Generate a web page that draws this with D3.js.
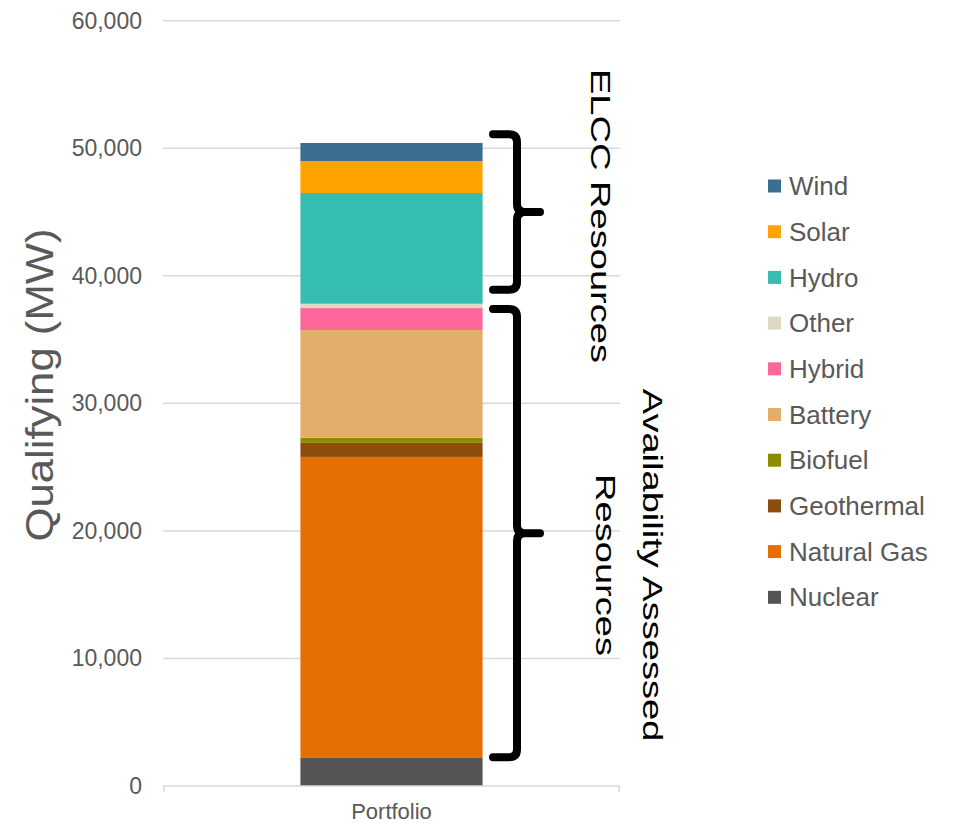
<!DOCTYPE html>
<html>
<head>
<meta charset="utf-8">
<script src="https://cdn.jsdelivr.net/npm/d3@7"></script>
<style>
  html, body { margin: 0; padding: 0; background: #ffffff; }
  svg { display: block; font-family: "Liberation Sans", Arial, sans-serif; }
</style>
</head>
<body>
<svg id="chart" width="956" height="826"></svg>
<script>
// Qualifying capacity of the portfolio, stacked by resource type (MW)
const categories = ["Portfolio"];
const seriesNames = ["Nuclear", "Natural Gas", "Geothermal", "Biofuel", "Battery",
                     "Hybrid", "Other", "Hydro", "Solar", "Wind"];
const seriesValues = [2200, 23600, 1100, 400, 8450, 1720, 340, 8680, 2510, 1410];
const seriesColors = ["#555555", "#E56E00", "#8C4D0C", "#8C8C00", "#E3AE6B",
                      "#FF6699", "#DDD9C3", "#35BDB2", "#FFA300", "#3B6E8F"];
const yTicks = [0, 10000, 20000, 30000, 40000, 50000, 60000];

// Resource groups marked with braces: [low, high] in MW
const groupLabels = [["ELCC Resources"], ["Availability Assessed", "Resources"]];
const groupRanges = [[38900, 51100], [2250, 37400]];

const svg = d3.select("#chart");
const plot = { left: 163, right: 620, top: 20.7, bottom: 786 };

const x = d3.scaleBand().domain(categories).range([plot.left, plot.right]).padding(0.43);
const y = d3.scaleLinear().domain([0, 60000]).range([plot.bottom, plot.top]);

// Gridlines
svg.append("g")
  .selectAll("line")
  .data(yTicks.filter(d => d > 0))
  .join("line")
  .attr("x1", plot.left).attr("x2", plot.right)
  .attr("y1", d => y(d)).attr("y2", d => y(d))
  .attr("stroke", "#d9d9d9").attr("stroke-width", 1.5);

// Y axis labels
const yAxis = svg.append("g")
  .attr("transform", `translate(${plot.left},0)`)
  .call(d3.axisLeft(y).tickValues(yTicks).tickFormat(d3.format(",")).tickSize(0).tickPadding(21));
yAxis.select(".domain").remove();
yAxis.selectAll("text")
  .attr("fill", "#595959")
  .style("font-size", "23px")
  .style("font-family", "'Liberation Sans', Arial, sans-serif");

// Stacked bar
const table = categories.map(c => {
  const row = { category: c };
  seriesNames.forEach((n, i) => { row[n] = seriesValues[i]; });
  return row;
});
const stacked = d3.stack().keys(seriesNames)(table);
const color = d3.scaleOrdinal().domain(seriesNames).range(seriesColors);

svg.append("g")
  .selectAll("g")
  .data(stacked)
  .join("g")
  .attr("fill", d => color(d.key))
  .selectAll("rect")
  .data(d => d)
  .join("rect")
  .attr("x", d => x(d.data.category))
  .attr("width", x.bandwidth())
  .attr("y", d => y(d[1]))
  .attr("height", d => y(d[0]) - y(d[1]));

// Category axis line with end ticks
svg.append("path")
  .attr("d", `M${plot.left + 0.75},${y(0) + 6}V${y(0)}H${plot.right - 0.75}V${y(0) + 6}`)
  .attr("fill", "none").attr("stroke", "#d9d9d9").attr("stroke-width", 1.5);

svg.append("text")
  .attr("x", x("Portfolio") + x.bandwidth() / 2)
  .attr("y", 819)
  .attr("text-anchor", "middle")
  .attr("fill", "#595959")
  .style("font-size", "22px")
  .text("Portfolio");

// Y axis title
svg.append("text")
  .attr("transform", `translate(53,${(232 + 538) / 2}) rotate(-90) scale(1.15,1)`)
  .attr("text-anchor", "middle")
  .attr("fill", "#595959")
  .style("font-size", "38px")
  .text("Qualifying (MW)");

// Braces
const braceX = 517, armLeft = 493, tipX = 540, r = 8;
groupRanges.forEach(([lo, hi]) => {
  const yt = y(hi), yb = y(lo), ym = (yt + yb) / 2;
  const d = `M${armLeft},${yt}H${braceX - r}Q${braceX},${yt} ${braceX},${yt + r}` +
            `V${ym - r}Q${braceX},${ym} ${braceX + r},${ym}H${tipX}` +
            `M${braceX + r},${ym}Q${braceX},${ym} ${braceX},${ym + r}` +
            `V${yb - r}Q${braceX},${yb} ${braceX - r},${yb}H${armLeft}`;
  svg.append("path")
    .attr("d", d)
    .attr("fill", "none")
    .attr("stroke", "#000000")
    .attr("stroke-width", 8)
    .attr("stroke-linecap", "round")
    .attr("stroke-linejoin", "round");
});

// Group labels, rotated to read downward
const labelCenters = [[601, 216], [629, 565]];
const lineGap = 47;
groupLabels.forEach((lines, gi) => {
  const [cx, cy] = labelCenters[gi];
  const g = svg.append("g")
    .attr("transform", `translate(${cx},${cy}) rotate(90) scale(1.36,1)`);
  lines.forEach((t, li) => {
    g.append("text")
      .attr("x", 0)
      .attr("y", (li - (lines.length - 1) / 2) * lineGap)
      .attr("dy", "0.35em")
      .attr("text-anchor", "middle")
      .attr("fill", "#000000")
      .style("font-size", "28px")
      .text(t);
  });
});

// Legend (top of stack first)
const legendItems = seriesNames.slice().reverse();
const legend = svg.append("g")
  .selectAll("g")
  .data(legendItems)
  .join("g")
  .attr("transform", (d, i) => `translate(768,${186 + i * 45.7})`);
legend.append("rect")
  .attr("x", 0).attr("y", -6.5)
  .attr("width", 13).attr("height", 13)
  .attr("fill", d => color(d));
legend.append("text")
  .attr("x", 21)
  .attr("dy", "0.35em")
  .attr("fill", "#595959")
  .style("font-size", "26px")
  .text(d => d);
</script>
</body>
</html>
